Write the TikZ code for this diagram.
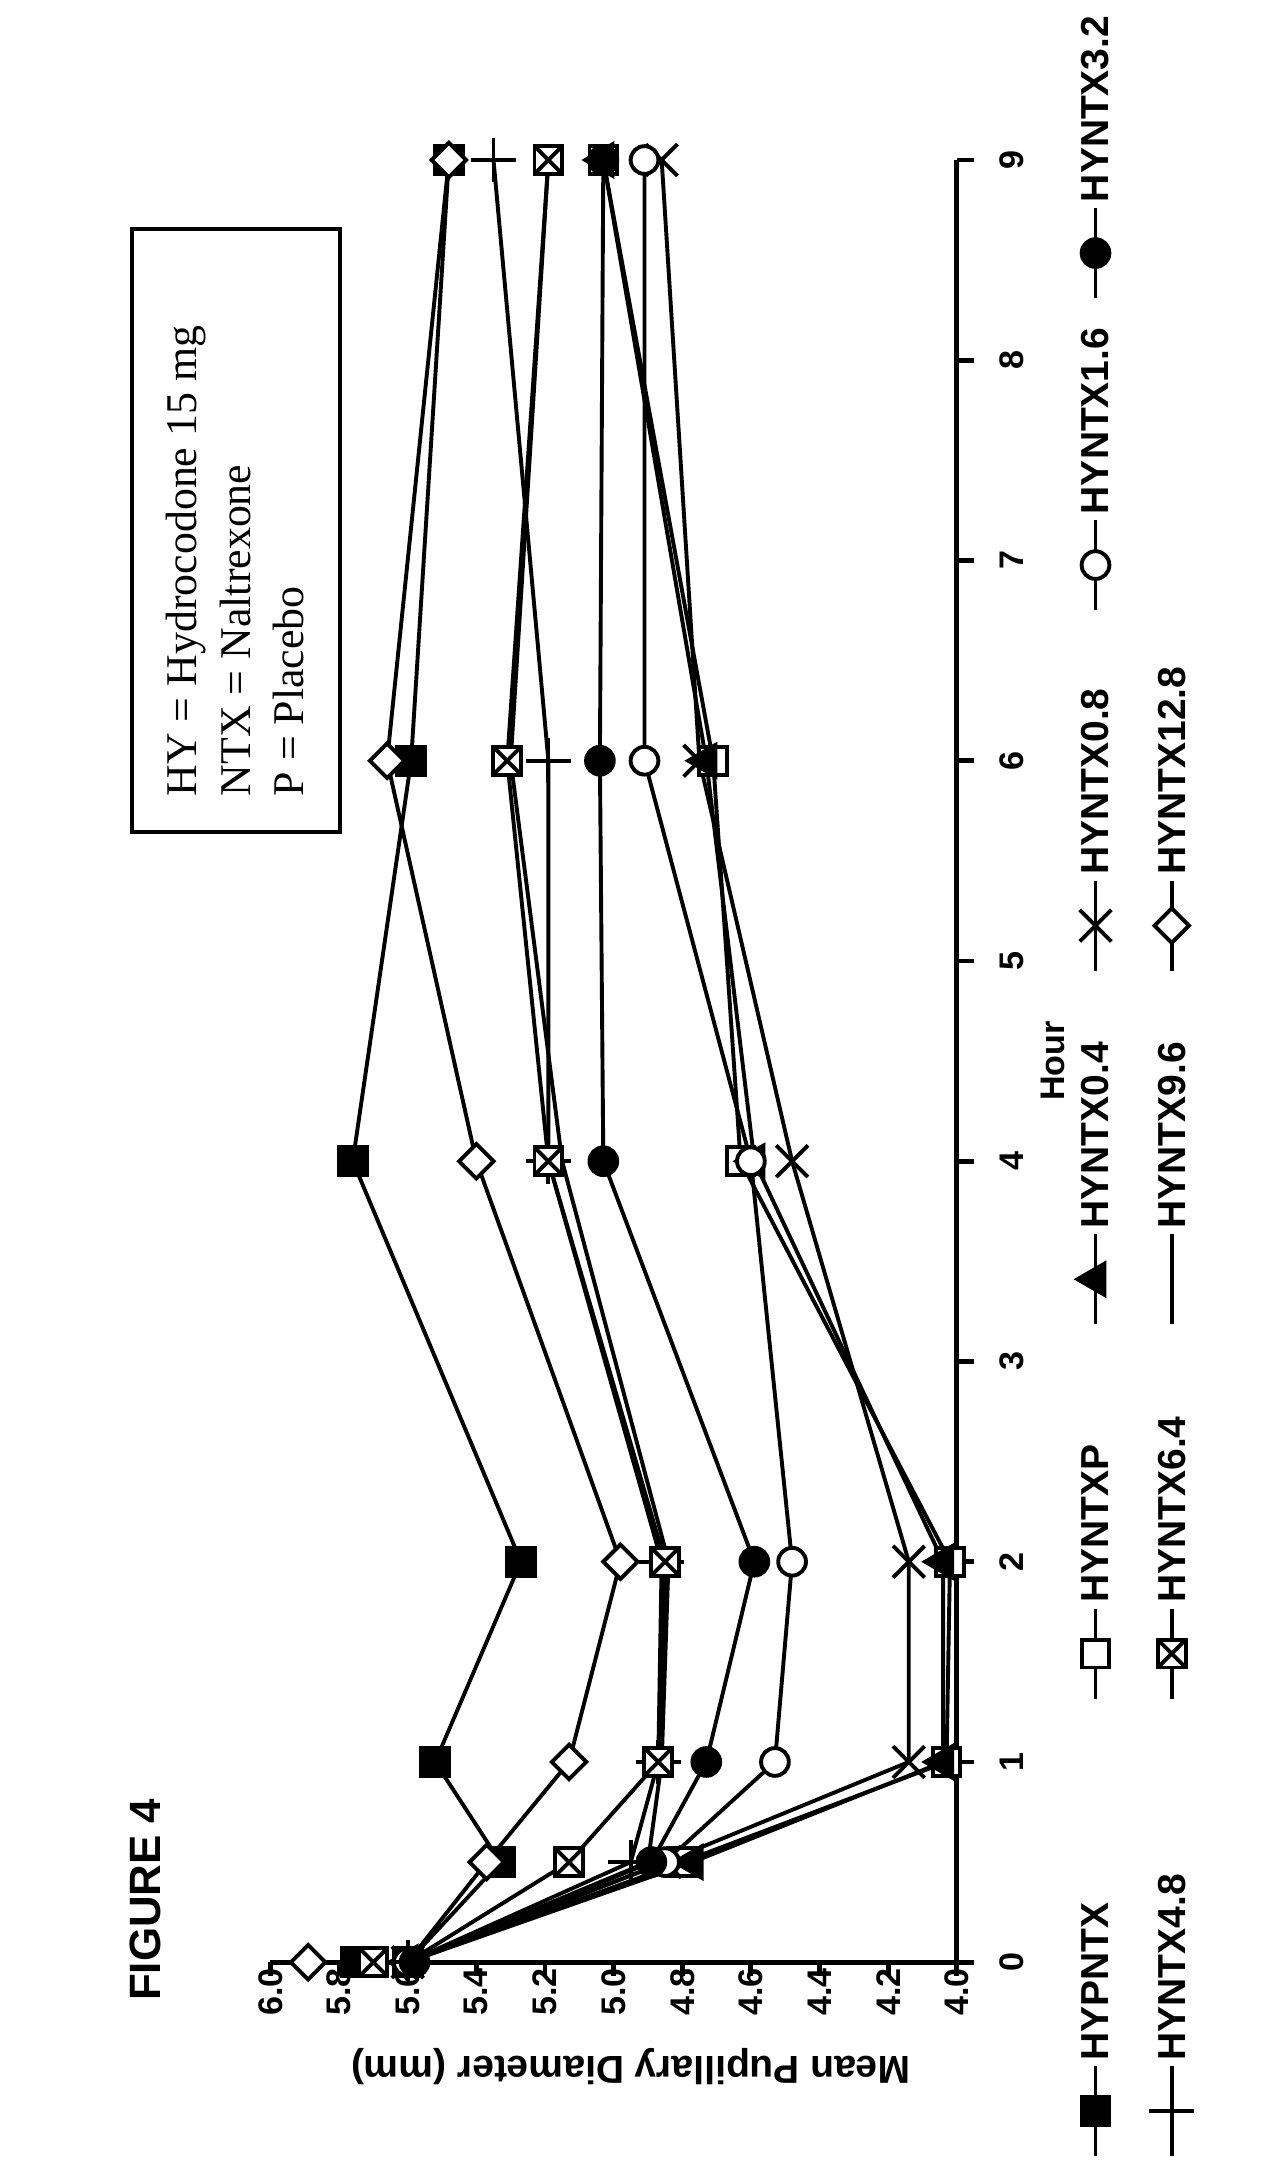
\documentclass[tikz,border=0pt]{standalone}
\usepackage{fontspec}
\setmainfont{Liberation Serif}
\newfontfamily\arialfont{Liberation Sans}
\usetikzlibrary{positioning,shapes.geometric,shapes.misc}
\tikzset{
  lbl/.style={font=\arialfont\bfseries\scriptsize, rotate=90, inner sep=1pt},
  curve/.style={line width=0.8pt},
  mk/.style={draw, line width=0.8pt, fill=white, inner sep=0pt, minimum size=0.2cm},
  msqf/.style={mk, rectangle, fill=black},
  msq/.style={mk, rectangle},
  mtri/.style={mk, regular polygon, regular polygon sides=3, shape border rotate=90, fill=black, minimum size=0.26cm},
  mx/.style={mk, cross out, fill=none},
  mcirc/.style={mk, circle},
  mcircf/.style={mk, circle, fill=black},
  mplus/.style={mk, cross out, rotate=45, fill=none},
  msqx/.style={mk, rectangle, path picture={\draw[line width=0.8pt] (path picture bounding box.south west) -- (path picture bounding box.north east) (path picture bounding box.north west) -- (path picture bounding box.south east);}},
  mnone/.style={inner sep=0pt, minimum size=0pt},
  mdia/.style={mk, diamond, minimum size=0.26cm},
}
\begin{document}
\begin{tikzpicture}[x=1cm,y=1cm]
\useasboundingbox (0,0) rectangle (9.2,15.67);
% title
\node[font=\arialfont\bfseries\small, rotate=90] (title) at (1.05,1.97) {FIGURE 4};
% note box
\draw[line width=0.8pt] (0.95,9.67) rectangle (2.45,14.02);
\node[rotate=90, anchor=north west, align=left, font=\small, inner sep=2pt] (note) at (1.12,9.85)
  {HY = Hydrocodone 15 mg\\NTX = Naltrexone\\P = Placebo};
\begin{scope}[shift={(16.8,1.52)}, x={(-2.475cm,0)}, y={(0,1.444cm)}]
  % axes
  \draw[line width=1pt] (6.0,0) coordinate (ytop) -- (4,0) coordinate (orig) -- (4,9) coordinate (xend);
  \foreach \h in {0,...,9} {
    \draw[line width=1pt] (4,\h) -- ++(-0.05,0);
    \node[lbl] (h\h) at (3.84,\h) {\h};
  }
  \foreach \v in {4.0,4.2,4.4,4.6,4.8,5.0,5.2,5.4,5.6,5.8,6.0} {
    \draw[line width=1pt] (\v,0) -- ++(0,-0.07);
    \node[lbl] (v\v) at (\v,-0.15) {\v};
  }
  \node[lbl] (hourlab) at (3.72,4.5) {Hour};
  \node[lbl, font=\arialfont\bfseries\footnotesize, rotate=90] (ylab) at (4.95,-0.52) {Mean Pupillary Diameter (mm)};
  % series
  \foreach \st/\pts in {
    msqf/{5.33/0.5,5.52/1,5.27/2,5.76/4,5.59/6,5.48/9},
    msq/{4.80/0.5,4.03/1,4.02/2,4.63/4,4.71/6,5.03/9},
    mtri/{4.77/0.5,4.04/1,4.04/2,4.59/4,4.73/6,5.03/9},
    mx/{4.85/0.5,4.14/1,4.14/2,4.48/4,4.75/6,4.86/9},
    mcirc/{4.85/0.5,4.53/1,4.48/2,4.60/4,4.91/6,4.91/9},
    mcircf/{4.89/0.5,4.73/1,4.59/2,5.03/4,5.04/6,5.03/9},
    mplus/{4.95/0.5,4.87/1,4.86/2,5.19/4,5.19/6,5.35/9},
    mnone/{4.90/0.5,4.86/1,4.84/2,5.15/4,5.30/6,5.19/9},
    msqx/{5.13/0.5,4.87/1,4.85/2,5.19/4,5.31/6,5.19/9},
    mdia/{5.37/0.5,5.13/1,4.98/2,5.40/4,5.66/6,5.48/9}} {
    \draw[curve] (5.6,0) \foreach \v/\h in \pts { -- (\v,\h) };
  }
  \foreach \st/\pts in {
    msqf/{5.75/0,5.33/0.5,5.52/1,5.27/2,5.76/4,5.59/6,5.48/9},
    msq/{5.60/0,4.80/0.5,4.03/1,4.02/2,4.63/4,4.71/6,5.03/9},
    mtri/{5.60/0,4.77/0.5,4.04/1,4.04/2,4.59/4,4.73/6,5.03/9},
    mx/{5.60/0,4.85/0.5,4.14/1,4.14/2,4.48/4,4.75/6,4.86/9},
    mcirc/{5.60/0,4.85/0.5,4.53/1,4.48/2,4.60/4,4.91/6,4.91/9},
    mcircf/{5.58/0,4.89/0.5,4.73/1,4.59/2,5.03/4,5.04/6,5.03/9},
    mplus/{5.60/0,4.95/0.5,4.87/1,4.86/2,5.19/4,5.19/6,5.35/9},
    msqx/{5.70/0,5.13/0.5,4.87/1,4.85/2,5.19/4,5.31/6,5.19/9},
    mdia/{5.89/0,5.37/0.5,5.13/1,4.98/2,5.40/4,5.66/6,5.48/9}} {
    \foreach \v/\h in \pts { \node[\st] at (\v,\h) {}; }
  }
\end{scope}
% legend
\foreach \px/\py/\st/\txt/\nm in {
  7.90/0.12/msqf/HYPNTX/la, 7.90/3.42/msq/HYNTXP/lb,
  7.90/6.12/mtri/HYNTX0.4/lc, 7.90/8.67/mx/HYNTX0.8/ld,
  7.90/11.27/mcirc/HYNTX1.6/le, 7.90/13.52/mcircf/HYNTX3.2/lf,
  8.45/0.12/mplus/HYNTX4.8/lg, 8.45/3.42/msqx/HYNTX6.4/lh,
  8.45/6.12/mnone/HYNTX9.6/li, 8.45/8.67/mdia/HYNTX12.8/lj} {
  \coordinate (\nm a) at (\px,\py);
  \coordinate (\nm b) at (\px,\py+0.65);
  \draw[curve] (\nm a) -- (\nm b);
  \node[\st] (\nm m) at (\px,\py+0.325) {};
  \node[lbl, font=\arialfont\bfseries\footnotesize, anchor=west] (\nm) at (\nm b) {\txt};
}
\end{tikzpicture}
\end{document}
